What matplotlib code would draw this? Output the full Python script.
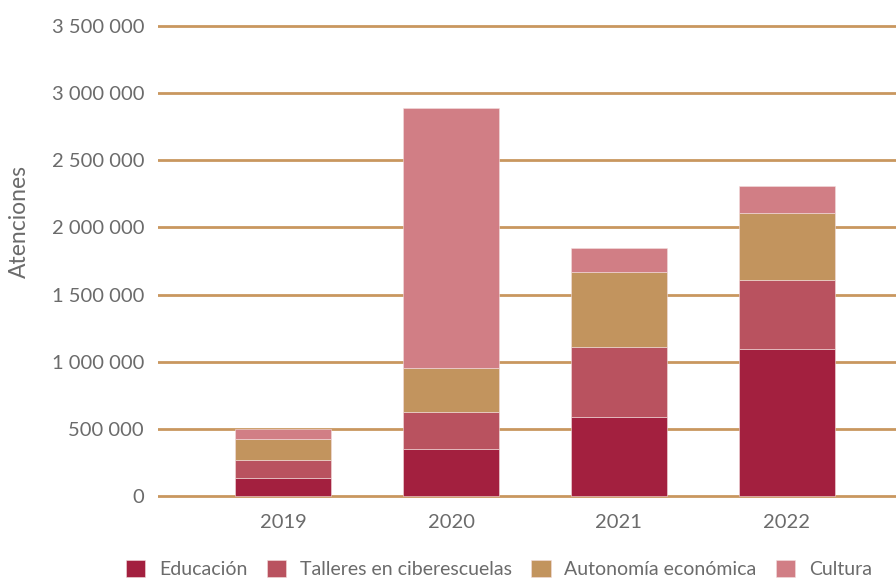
import matplotlib
matplotlib.use('Agg')
import matplotlib.pyplot as plt
import numpy as np

plt.rcParams['font.family'] = ['Lato', 'DejaVu Sans']

# Data
years = ['2019', '2020', '2021', '2022']
series_names = ['Educación', 'Talleres en ciberescuelas', 'Autonomía económica', 'Cultura']
educacion = [135000, 350000, 590000, 1093000]
talleres = [135000, 278000, 518000, 515000]
autonomia = [155000, 322000, 562000, 502000]
cultura = [75000, 1940000, 177000, 198000]
y_ticks = [0, 500000, 1000000, 1500000, 2000000, 2500000, 3000000, 3500000]

colors = ['#A3203F', '#B9525F', '#C2945E', '#D17E85']
grid_color = '#C9975F'
text_color = '#6b6b6b'

fig = plt.figure(figsize=(8.96, 5.80), dpi=100)
# axes placed in pixel terms: left 158, bottom ~498.7, top ~23.3
ax = fig.add_axes([158/896, (580-498.7)/580, 1-158/896, (498.7-23.3)/580])

x = np.arange(len(years))
bottom = np.zeros(len(years))
for vals, name, col in zip([educacion, talleres, autonomia, cultura], series_names, colors):
    ax.bar(x, vals, width=0.572, bottom=bottom, color=col, label=name,
           edgecolor='#f3dede', linewidth=0.4, zorder=3)
    bottom += np.array(vals)

ax.set_ylim(-20000, 3520000)
ax.set_xlim(-0.745, 3.65)
ax.set_yticks(y_ticks)
ax.set_yticklabels([f'{v:,}'.replace(',', ' ') for v in y_ticks])
ax.set_xticks(x)
ax.set_xticklabels(years)

ax.grid(True, axis='y', color=grid_color, linewidth=2.0, zorder=0)
ax.set_axisbelow(True)
for s in ax.spines.values():
    s.set_visible(False)
ax.tick_params(axis='both', length=0, labelsize=14.5, colors=text_color)
ax.tick_params(axis='y', pad=10)
ax.tick_params(axis='x', pad=11)

fig.text(19/896, 1-222/580, 'Atenciones', rotation=90, ha='center', va='center',
         fontsize=16.5, color=text_color)

leg = fig.legend(loc='center', bbox_to_anchor=(499/896, 11/580), ncol=4, frameon=False,
                 handlelength=1.0, handleheight=1.0, handletextpad=0.7,
                 columnspacing=1.0, fontsize=14)
for t in leg.get_texts():
    t.set_color(text_color)

fig.savefig('out.png', dpi=100)
plt.close(fig)
